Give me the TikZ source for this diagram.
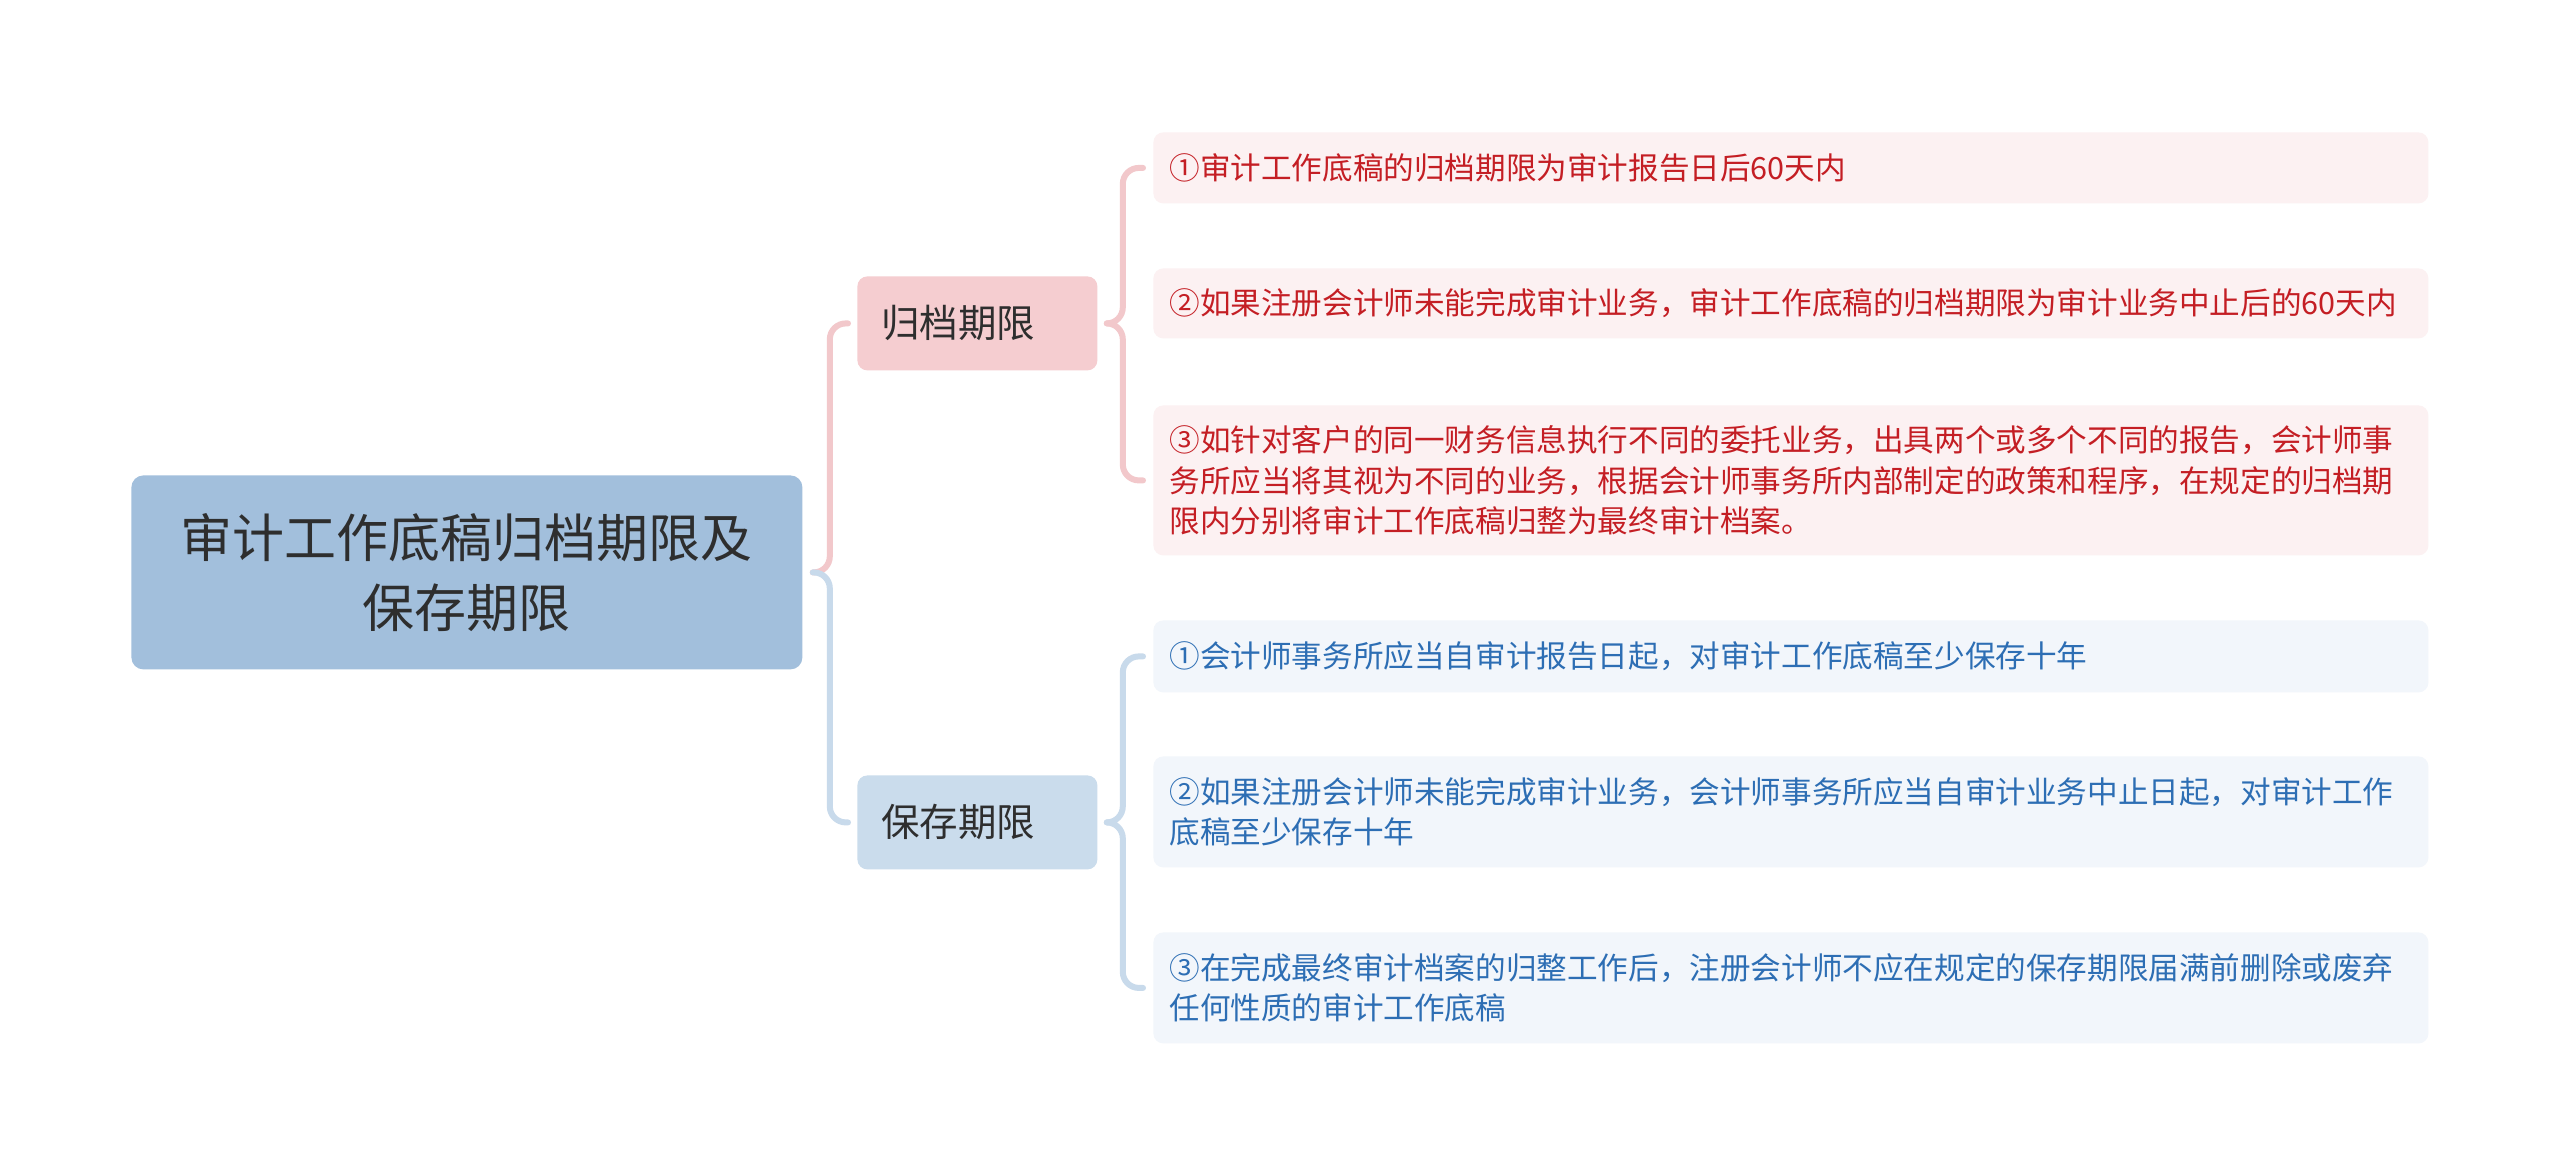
\documentclass[tikz,border=0pt]{standalone}
\usepackage{fontspec}
\setmainfont{Noto Sans CJK SC}
\definecolor{rootfill}{HTML}{A2BFDC}
\definecolor{darktext}{HTML}{2E2E2E}
\definecolor{b1fill}{HTML}{F5CDD0}
\definecolor{b2fill}{HTML}{CADCEC}
\definecolor{l1fill}{HTML}{FCF1F2}
\definecolor{l2fill}{HTML}{F2F6FB}
\definecolor{redtext}{HTML}{C41E24}
\definecolor{bluetext}{HTML}{2D6EB4}
\definecolor{pinkline}{HTML}{F2C8CB}
\definecolor{blueline}{HTML}{C8DAEB}
\begin{document}
\begin{tikzpicture}[x=0.5pt,y=-0.5pt,
  rootbox/.style={fill=rootfill, rounded corners=6pt, anchor=north west,
    minimum width=335.5pt, minimum height=97pt, align=center, text=darktext,
    inner sep=0pt, font=\fontsize{26pt}{35pt}\selectfont},
  branchbox/.style={rounded corners=5pt, anchor=north west, minimum width=120pt,
    minimum height=47pt, text width=96pt, inner xsep=12pt, inner ysep=0pt,
    align=left, text=darktext, font=\fontsize{19.25pt}{24pt}\selectfont},
  leafbox/.style={rounded corners=5pt, anchor=north west, minimum height=#1,
    text width=621.5pt, inner xsep=8pt, inner ysep=0pt, align=left,
    font=\fontsize{15.3pt}{20.3pt}\selectfont},
  redleaf/.style={leafbox=#1, fill=l1fill, text=redtext},
  blueleaf/.style={leafbox=#1, fill=l2fill, text=bluetext},
  link/.style={line width=3pt, rounded corners=8pt, line cap=round}
]
\useasboundingbox (0,0) rectangle (2560,1175);
\fill[white] (0,0) rectangle (2560,1175);

\node[rootbox] (root) at (131,475) {审计工作底稿归档期限及\\保存期限};
\node[branchbox, fill=b1fill] (b1) at (857,276) {归档期限};
\node[branchbox, fill=b2fill] (b2) at (857,775) {保存期限};

\node[redleaf=35.5pt] (l1) at (1153,132) {①审计工作底稿的归档期限为审计报告日后60天内};
\node[redleaf=35pt] (l2) at (1153,268) {②如果注册会计师未能完成审计业务，审计工作底稿的归档期限为审计业务中止后的60天内};
\node[redleaf=75pt] (l3) at (1153,405) {③如针对客户的同一财务信息执行不同的委托业务，出具两个或多个不同的报告，会计师事\\务所应当将其视为不同的业务，根据会计师事务所内部制定的政策和程序，在规定的归档期\\限内分别将审计工作底稿归整为最终审计档案。};

\node[blueleaf=36pt] (p1) at (1153,620) {①会计师事务所应当自审计报告日起，对审计工作底稿至少保存十年};
\node[blueleaf=55.5pt] (p2) at (1153,756) {②如果注册会计师未能完成审计业务，会计师事务所应当自审计业务中止日起，对审计工作\\底稿至少保存十年};
\node[blueleaf=55.5pt] (p3) at (1153,932) {③在完成最终审计档案的归整工作后，注册会计师不应在规定的保存期限届满前删除或废弃\\任何性质的审计工作底稿};

\draw[link, pinkline] ([xshift=5pt]root.east) -- ++(8.5pt,0) |- ([xshift=-4.5pt]b1.west);
\draw[link, blueline] ([xshift=5pt]root.east) -- ++(8.5pt,0) |- ([xshift=-4.5pt]b2.west);

\draw[link, pinkline] ([xshift=4.5pt]b1.east) -- ++(8pt,0) |- ([xshift=-5pt]l1.west);
\draw[link, pinkline] ([xshift=4.5pt]b1.east) -- ++(8pt,0) |- ([xshift=-5pt]l3.west);
\draw[link, blueline] ([xshift=4.5pt]b2.east) -- ++(8pt,0) |- ([xshift=-5pt]p1.west);
\draw[link, blueline] ([xshift=4.5pt]b2.east) -- ++(8pt,0) |- ([xshift=-5pt]p3.west);
\end{tikzpicture}
\end{document}
